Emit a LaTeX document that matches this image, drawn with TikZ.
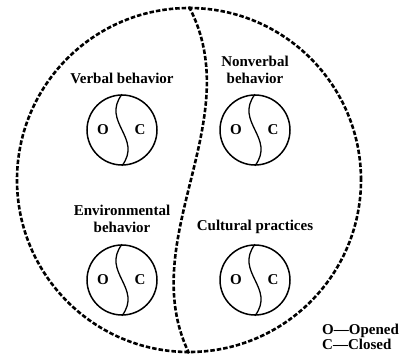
\documentclass[tikz,border=0pt]{standalone}
\usepackage{fontspec}
\setmainfont{Liberation Serif}
\usetikzlibrary{calc}

\tikzset{
  dots/.style={line width=2.6pt, dash pattern=on 4.5pt off 2pt},
  oc/.style={draw, circle, line width=1.5pt, minimum size=70pt, inner sep=0pt},
  lbl/.style={font=\fontsize{15}{17}\selectfont\bfseries, align=center, inner sep=0pt},
}

\begin{document}
\begin{tikzpicture}[x=1pt, y=-1pt]
\useasboundingbox (0,0) rectangle (402,354);
\node[circle, dots, draw, minimum size=344pt, inner sep=0pt] (world) at (189,180) {};
\draw[dots] (world.north) .. controls ($(world.north)+(60,114)$) and ($(world.south)+(-55,-114)$) .. (world.south);

\node[oc] (verbal) at (122,130) {};
\node[oc] (nonverbal) at (255,130) {};
\node[oc] (environ) at (122,280) {};
\node[oc] (cultural) at (255,280) {};

\node[lbl] (verbal-t) at (122,78) {Verbal behavior};
\node[lbl] (nonverbal-t) at (255,70) {Nonverbal\\behavior};
\node[lbl] (environ-t) at (122,219) {Environmental\\behavior};
\node[lbl] (cultural-t) at (255,227) {Cultural practices};

\foreach \c in {verbal,nonverbal,environ,cultural}{
  \draw[line width=1.3pt] (\c.north) .. controls ($(\c.north)+(-21,28)$) and ($(\c.south)+(21,-28)$) .. (\c.south);
  \node[lbl] (\c-o) at ($(\c)+(-19,0)$) {O};
  \node[lbl] (\c-c) at ($(\c)+(18,0)$) {C};
}

\node[lbl, align=left, anchor=west, font=\fontsize{15}{13.5}\selectfont\bfseries] (key) at (322,337) {O---Opened\\C---Closed};
\end{tikzpicture}
\end{document}
